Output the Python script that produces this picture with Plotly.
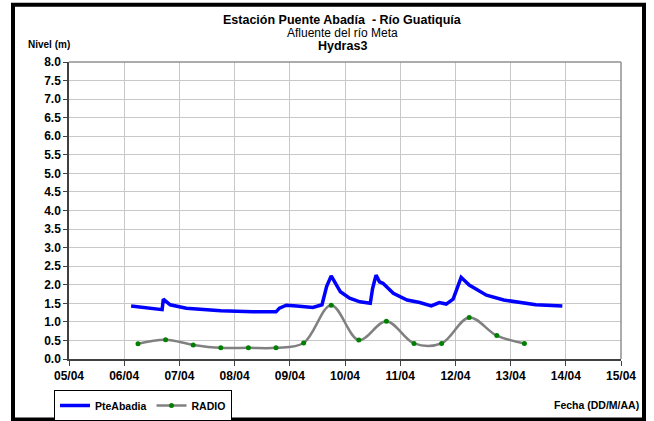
import plotly.graph_objects as go

# ---------------- data ----------------
pte_time = [
    "2010-04-06 03:00", "2010-04-06 10:00", "2010-04-06 15:30", "2010-04-06 16:30",
    "2010-04-06 17:00", "2010-04-06 18:00", "2010-04-06 20:00", "2010-04-07 03:00",
    "2010-04-07 18:00", "2010-04-08 08:00", "2010-04-08 18:00", "2010-04-08 19:30",
    "2010-04-08 22:30", "2010-04-09 03:00", "2010-04-09 10:00", "2010-04-09 14:00",
    "2010-04-09 16:00", "2010-04-09 18:00", "2010-04-09 19:00", "2010-04-09 22:00",
    "2010-04-10 02:00", "2010-04-10 06:30", "2010-04-10 11:00", "2010-04-10 12:00",
    "2010-04-10 13:30", "2010-04-10 15:00", "2010-04-10 16:30", "2010-04-10 21:00",
    "2010-04-11 03:00", "2010-04-11 08:30", "2010-04-11 13:30", "2010-04-11 17:00",
    "2010-04-11 20:00", "2010-04-11 23:00", "2010-04-12 00:30", "2010-04-12 02:30",
    "2010-04-12 06:00", "2010-04-12 13:30", "2010-04-12 21:00", "2010-04-13 04:00",
    "2010-04-13 11:00", "2010-04-13 22:30",
]
pte_level = [
    1.43, 1.38, 1.32, 1.33,
    1.61, 1.55, 1.46, 1.37,
    1.30, 1.27, 1.27, 1.37,
    1.45, 1.43, 1.39, 1.46,
    1.95, 2.24, 2.13, 1.81,
    1.64, 1.54, 1.50, 1.90,
    2.26, 2.08, 2.04, 1.77,
    1.59, 1.52, 1.43, 1.52,
    1.48, 1.61, 1.86, 2.20,
    1.99, 1.72, 1.59, 1.52,
    1.46, 1.43,
]

radio_time = [
    "2010-04-06 06:00", "2010-04-06 18:00", "2010-04-07 06:00", "2010-04-07 18:00",
    "2010-04-08 06:00", "2010-04-08 18:00", "2010-04-09 06:00", "2010-04-09 18:00",
    "2010-04-10 06:00", "2010-04-10 18:00", "2010-04-11 06:00", "2010-04-11 18:00",
    "2010-04-12 06:00", "2010-04-12 18:00", "2010-04-13 06:00",
]
radio_level = [0.41, 0.52, 0.38, 0.30, 0.30, 0.30, 0.43, 1.45,
               0.51, 1.02, 0.42, 0.42, 1.12, 0.63, 0.42]

x_range = ["2010-04-05", "2010-04-15"]
y_range = [0, 8]

title_lines = ["<b>Estación Puente Abadía  - Río Guatiquía</b>",
               "Afluente del río Meta",
               "<b>Hydras3</b>"]

# ---------------- layout helpers (pixel -> paper) ----------------
W, H = 654, 421
L, R, T, B = 69, 33, 62, 62
PW, PH = W - L - R, H - T - B


def px(x):
    return (x - L) / PW


def py(y):
    return (H - B - y) / PH


FONT = "Liberation Sans, Arial, sans-serif"

fig = go.Figure()
fig.add_trace(go.Scatter(
    x=pte_time, y=pte_level, name="PteAbadia", mode="lines",
    line=dict(color="#0000ff", width=3.5),
))
fig.add_trace(go.Scatter(
    x=radio_time, y=radio_level, name="RADIO", mode="lines+markers",
    line=dict(color="#808080", width=2.5, shape="spline", smoothing=1.0),
    marker=dict(color="#008000", size=5),
))

axis_common = dict(
    showgrid=True, gridcolor="#c8c8c8", gridwidth=1,
    showline=True, linecolor="#404040", linewidth=1.5,
    ticks="outside", tickcolor="#404040",
    tickfont=dict(family=FONT, size=12, color="black", weight="bold"),
    zeroline=False, automargin=False,
)

fig.update_xaxes(range=x_range, type="date", dtick=86400000, tick0="2010-04-05",
                 tickformat="%d/%m", ticklen=5, **axis_common)
fig.update_yaxes(range=y_range, dtick=0.5, tickformat=".1f", ticklen=4, **axis_common)

annotations = []
for txt, yy, sz in zip(title_lines, [20, 33, 46], [12.5, 12, 12.5]):
    annotations.append(dict(
        text=txt, x=px(342), y=py(yy), xref="paper", yref="paper",
        xanchor="center", yanchor="middle", showarrow=False,
        font=dict(family=FONT, size=sz, color="black"),
    ))
annotations.append(dict(
    text="<b>Nivel (m)</b>", x=px(26), y=py(45), xref="paper", yref="paper",
    xanchor="left", yanchor="middle", showarrow=False,
    font=dict(family=FONT, size=10, color="black"),
))
annotations.append(dict(
    text="<b>Fecha (DD/M/AA)</b>", x=px(641), y=py(405), xref="paper", yref="paper",
    xanchor="right", yanchor="middle", showarrow=False,
    font=dict(family=FONT, size=10.5, color="black"),
))

shapes = [
    # grey plot frame top/right
    dict(type="line", xref="paper", yref="paper", x0=0, x1=1, y0=1, y1=1,
         line=dict(color="#909090", width=1.5)),
    dict(type="line", xref="paper", yref="paper", x0=1, x1=1, y0=0, y1=1,
         line=dict(color="#909090", width=1.5)),
    # outer black frame
    dict(type="rect", xref="paper", yref="paper",
         x0=px(13), x1=px(644), y0=py(4.7), y1=py(419.5),
         line=dict(color="black", width=4)),
]

fig.update_layout(
    width=W, height=H, autosize=False,
    margin=dict(l=L, r=R, t=T, b=B, autoexpand=False),
    paper_bgcolor="white", plot_bgcolor="white",
    font=dict(family=FONT, color="black"),
    showlegend=True,
    legend=dict(
        orientation="h", x=px(54), y=py(390), xanchor="left", yanchor="top",
        bordercolor="black", borderwidth=1, bgcolor="white",
        font=dict(family=FONT, size=10.5, color="black", weight="bold"),
        itemwidth=30, tracegroupgap=0,
    ),
    annotations=annotations,
    shapes=shapes,
)

fig.write_html(
    "out.html",
    config={"displayModeBar": False, "responsive": False},
    default_width=f"{W}px", default_height=f"{H}px",
    post_script="document.body.style.margin='0';document.body.style.padding='0';"
                "document.body.style.overflow='hidden';",
)
